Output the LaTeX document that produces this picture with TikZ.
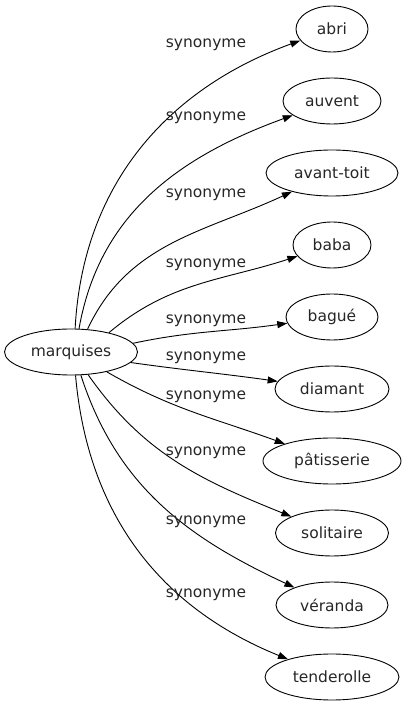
\documentclass[tikz,border=0pt]{standalone}
\usepackage{fontspec}
\setmainfont{DejaVu Sans}
\usetikzlibrary{arrows.meta}
\usetikzlibrary{shapes.geometric}
\usepackage{xcolor}
\colorlet{mytext}{black!85}
\tikzset{
  >=latex, % default arrow head
  word/.style={ellipse,draw=black,line width=0.9pt,text=mytext,inner sep=0,minimum height=46pt,font=\fontsize{15.5}{18}\selectfont},
  word main/.style={word,minimum width=133pt},
  syn label/.style={text=mytext,inner sep=0,font=\fontsize{15.5}{18}\selectfont},
  connect arrow/.style={-{Triangle[length=10pt,width=7pt]},line width=0.9pt,black}
}

\begin{document}
\begin{tikzpicture}[x=1pt,y=1pt]
  \useasboundingbox (0,0) rectangle (406,707);
  \node[word main] (m) at (71,355) {marquises};
  \node[word,minimum width=72pt] (abri) at (332,678) {abri};
  \node[word,minimum width=98pt] (auvent) at (332,606) {auvent};
  \node[word,minimum width=132pt] (avant) at (332,534) {avant-toit};
  \node[word,minimum width=78pt] (baba) at (332,462) {baba};
  \node[word,minimum width=92pt] (bague) at (332,390) {bagué};
  \node[word,minimum width=114pt] (diamant) at (332,318) {diamant};
  \node[word,minimum width=138pt] (pat) at (332,246) {pâtisserie};
  \node[word,minimum width=113pt] (sol) at (332,174) {solitaire};
  \node[word,minimum width=112pt] (ver) at (332,102) {véranda};
  \node[word,minimum width=134pt] (ten) at (332,30) {tenderolle};

  \draw[connect arrow] (m.80) to[out=87,in=200] (abri);
  \node[syn label] (l1) at (206,662) {synonyme};
  \draw[connect arrow] (m.71) to[out=80,in=200] (auvent);
  \node[syn label] (l2) at (206,589) {synonyme};
  \draw[connect arrow] (m.54) to[out=65,in=205] (avant);
  \node[syn label] (l3) at (206,512) {synonyme};
  \draw[connect arrow] (m.27) to[out=40,in=198] (baba);
  \node[syn label] (l4) at (206,442) {synonyme};
  \draw[connect arrow] (m.8) to[out=12,in=188] (bague);
  \node[syn label] (l5) at (206,386) {synonyme};
  \draw[connect arrow] (m.-10) to[out=-8,in=172] (diamant);
  \node[syn label] (l6) at (206,349) {synonyme};
  \draw[connect arrow] (m.-29) to[out=-30,in=160] (pat);
  \node[syn label] (l7) at (206,310) {synonyme};
  \draw[connect arrow] (m.-53) to[out=-55,in=158] (sol);
  \node[syn label] (l8) at (206,254) {synonyme};
  \draw[connect arrow] (m.-67) to[out=-72,in=155] (ver);
  \node[syn label] (l9) at (206,185) {synonyme};
  \draw[connect arrow] (m.-79) to[out=-85,in=158] (ten);
  \node[syn label] (l10) at (206,112) {synonyme};
\end{tikzpicture}
\end{document}
